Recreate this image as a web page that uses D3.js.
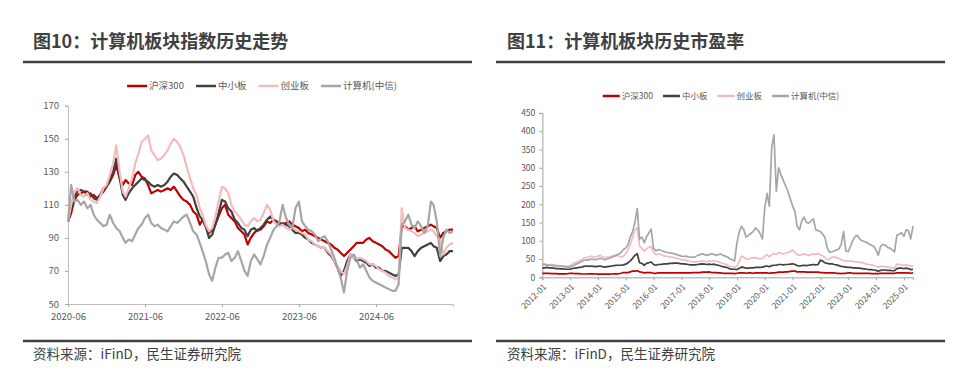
<!DOCTYPE html>
<html>
<head>
<meta charset="utf-8">
<script src="https://cdn.jsdelivr.net/npm/d3@7"></script>
<style>
  body { margin: 0; background: #fff; }
  svg { display: block; font-family: "Microsoft YaHei", "Noto Sans CJK SC", sans-serif; }
</style>
</head>
<body>
<svg id="chart" width="957" height="373"></svg>
<script>
// legend / series
const seriesNames = ['沪深300', '中小板', '创业板', '计算机(中信)'];
const seriesColors = ['#c00000', '#404040', '#f2bcbc', '#a6a6a6'];

// fig 10: index level, half-monthly from 2020-06 (2020-06 = 100)
const idxStart = '2020-06-01';
const idxTickLabels = ['2020-06', '2021-06', '2022-06', '2023-06', '2024-06'];
const idxYTicks = [50, 70, 90, 110, 130, 150, 170];

const idxHs300 = [
  100, 105, 113, 116, 117, 118, 118, 115, 116, 114,
  116, 118, 121, 124, 128, 134, 126, 122, 125, 123,
  122, 128, 130, 127, 126, 122, 117, 118, 119, 118,
  119, 120, 119, 121, 118, 115, 113, 112, 110, 106,
  104, 98, 101, 97, 93, 95, 98, 103, 108, 110,
  104, 102, 100, 96, 94, 92, 86, 90, 93, 95,
  95, 97, 100, 99, 101, 100, 99, 98, 99, 100,
  98, 97, 96, 94, 95, 93, 92, 91, 90, 89,
  88, 87, 86, 84, 83, 81, 79, 81, 83, 85,
  87, 87, 87, 89, 90, 88, 87, 86, 85, 83,
  82, 80, 78, 79, 97, 97, 95, 96, 97, 94,
  95, 96, 97, 98, 97, 96, 90, 93, 94, 95,
  95
];
const idxSme = [
  100, 108, 115, 118, 119, 118, 116, 117, 114, 113,
  116, 120, 121, 125, 130, 138, 126, 116, 113, 117,
  120, 122, 124, 126, 125, 124, 122, 121, 122, 121,
  122, 124, 127, 129, 128, 126, 124, 121, 118, 115,
  108, 103, 101, 97, 90, 92, 98, 105, 113, 112,
  108, 106, 101, 99, 96, 95, 91, 95, 96, 94,
  96, 98, 101, 103, 101, 99, 98, 99, 98, 97,
  95, 93, 93, 92, 90, 89, 87, 86, 85, 84,
  84, 81, 79, 76, 72, 67, 70, 76, 80, 78,
  76, 77, 76, 75, 73, 74, 72, 72, 70, 70,
  69, 68, 67, 68, 84, 84, 84, 82, 79, 82,
  84, 85, 86, 87, 85, 84, 76, 79, 80, 82,
  82
];
const idxGem = [
  100, 110, 118, 120, 116, 115, 117, 113, 112, 111,
  115, 120, 122, 128, 135, 146, 130, 118, 115, 120,
  126, 135, 141, 148, 150, 152, 143, 140, 137, 138,
  140, 143, 147, 150, 148, 145, 140, 133, 126, 120,
  116, 108, 104, 98, 94, 96, 103, 112, 121, 120,
  117, 110, 106, 104, 101, 98, 97, 100, 102, 100,
  101, 105, 110, 107, 100, 98, 97, 98, 96, 95,
  96, 95, 94, 93, 92, 89, 88, 86, 85, 84,
  84, 82, 80, 76, 73, 70, 68, 73, 80, 78,
  77, 78, 77, 76, 74, 74, 73, 71, 70, 69,
  67, 66, 65, 66, 108, 96, 95, 94, 93, 91,
  92, 93, 94, 95, 94, 91, 89, 80, 84, 86,
  87
];
const idxComputer = [
  100, 122, 112, 113, 110, 112, 108, 110, 104, 101,
  99, 97, 98, 104, 99, 96, 94, 90, 87, 89,
  88, 92, 96, 98, 102, 104, 99, 97, 98, 96,
  95, 94, 97, 100, 99, 101, 103, 104, 99, 94,
  92, 87, 82, 76, 68, 64, 72, 78, 78, 80,
  81, 76, 78, 82, 76, 70, 67, 76, 80, 77,
  74, 79, 86, 90, 95, 97, 100, 110, 102, 98,
  96, 108, 112, 100, 97, 95, 94, 92, 88, 90,
  91, 88, 83, 78, 72, 66, 57, 70, 78, 80,
  77, 72, 74, 70, 66, 64, 63, 62, 61, 60,
  59, 58, 58, 62, 98, 100, 104, 98, 96, 100,
  97, 93, 97, 112, 110, 100, 79, 90, 95, 93,
  94
];

// fig 11: PE, monthly from 2012-01
const peStart = '2012-01-01';
const peTickLabels = ['2012-01', '2013-01', '2014-01', '2015-01', '2016-01', '2017-01', '2018-01',
  '2019-01', '2020-01', '2021-01', '2022-01', '2023-01', '2024-01', '2025-01'];
const peYTicks = [0, 50, 100, 150, 200, 250, 300, 350, 400, 450];

const peHs300 = [
  11, 11, 11, 11, 10, 10, 10, 9.5, 9.5, 9.5, 9.5, 10,
  11, 11, 10, 10, 10, 9, 9, 9, 9.5, 9.5, 9.5, 9,
  8.5, 8.5, 8.5, 8.5, 8.5, 8.5, 9, 9.5, 9.5, 10, 11, 13,
  13, 13, 15, 17, 17, 18, 15, 14, 12, 13, 13, 13,
  11, 11, 12, 12, 12, 12, 12, 12, 12, 12, 12, 12,
  12, 12, 12, 12, 12, 13, 13, 13, 13, 14, 14, 14,
  15, 13, 13, 13, 12, 12, 11, 11, 11, 11, 11, 10,
  11, 12, 12, 12, 11, 12, 12, 11, 12, 12, 12, 12,
  12, 12, 11, 12, 12, 13, 14, 14, 14, 15, 15, 16,
  17, 17, 15, 15, 15, 15, 14, 14, 14, 14, 14, 14,
  13, 13, 12, 12, 12, 12, 12, 11, 11, 10, 11, 11,
  12, 12, 11, 11, 11, 11, 11, 11, 11, 11, 10, 10,
  10, 10, 11, 11, 11, 11, 11, 11, 11, 12, 12, 12,
  12, 12, 12, 11, 12
];
const peSme = [
  25, 26, 27, 26, 26, 25, 24, 24, 23, 23, 22, 22,
  22, 24, 25, 26, 27, 28, 30, 31, 30, 31, 30, 29,
  30, 31, 29, 28, 29, 30, 31, 32, 33, 33, 33, 34,
  36, 40, 45, 52, 60, 65, 40, 38, 33, 38, 40, 42,
  35, 33, 35, 35, 36, 37, 37, 38, 38, 39, 39, 38,
  37, 37, 36, 35, 34, 34, 34, 35, 36, 37, 36, 35,
  36, 35, 36, 34, 33, 31, 29, 28, 26, 23, 22, 22,
  21, 25, 28, 27, 25, 25, 26, 26, 27, 27, 27, 28,
  30, 31, 29, 32, 33, 33, 35, 35, 34, 35, 35, 36,
  37, 35, 32, 31, 32, 33, 32, 33, 34, 35, 34, 35,
  47, 44, 40, 38, 37, 37, 35, 34, 32, 30, 29, 28,
  27, 27, 26, 26, 25, 25, 24, 23, 22, 21, 21, 20,
  19, 17, 19, 20, 20, 19, 19, 18, 18, 24, 25, 25,
  24, 25, 24, 21, 22
];
const peGem = [
  35, 34, 33, 34, 35, 34, 33, 32, 31, 31, 30, 30,
  32, 36, 40, 42, 45, 48, 52, 55, 54, 58, 56, 55,
  58, 60, 56, 54, 55, 56, 58, 60, 62, 58, 56, 58,
  65, 75, 90, 110, 130, 135, 85, 80, 72, 78, 82, 85,
  68, 62, 64, 63, 60, 58, 57, 56, 55, 54, 52, 50,
  48, 48, 47, 45, 44, 42, 42, 43, 44, 45, 44, 43,
  45, 44, 46, 44, 43, 40, 38, 36, 34, 30, 29, 28,
  30, 45, 58, 55, 50, 50, 52, 53, 54, 52, 50, 52,
  58, 62, 56, 62, 65, 62, 68, 66, 64, 66, 68, 70,
  75, 68, 62, 60, 62, 64, 62, 60, 62, 64, 63, 65,
  62, 58, 55, 48, 50, 55, 56, 54, 52, 48, 46, 45,
  44, 45, 44, 42, 42, 41, 40, 38, 36, 35, 34, 33,
  30, 28, 30, 30, 29, 28, 27, 26, 25, 36, 35, 34,
  33, 34, 33, 30, 31
];
const peComputer = [
  35, 36, 34, 33, 33, 32, 31, 31, 30, 30, 29, 28,
  28, 31, 34, 37, 40, 43, 46, 48, 47, 50, 49, 48,
  50, 52, 50, 48, 50, 52, 55, 57, 60, 64, 68, 76,
  80, 90, 110, 125, 150, 188, 105, 110, 95, 110, 122, 132,
  80, 72, 76, 74, 72, 70, 68, 67, 66, 64, 62, 60,
  58, 57, 58, 56, 55, 55, 56, 60, 62, 64, 62, 60,
  62, 64, 63, 60, 62, 64, 60, 58, 55, 50, 48, 45,
  95, 125, 140, 130, 110, 115, 120, 125, 135, 130, 120, 105,
  190, 230, 195, 355, 390, 235, 300, 280, 265, 250, 235, 215,
  195, 180, 140, 130, 155, 165, 150, 148, 155, 160, 130, 128,
  125, 118, 110, 80, 68, 70, 72, 75, 78, 90, 125, 72,
  70, 85, 100, 112, 115, 105, 100, 98, 95, 92, 88, 85,
  75, 60, 85, 90, 88, 82, 80, 75, 70, 115, 118, 122,
  112, 130, 128, 105, 140
];

const parse = d3.timeParse('%Y-%m-%d');
const parseMonth = d3.timeParse('%Y-%m');

// half-month steps for fig 10, month steps for fig 11
const idxDates = idxHs300.map((_, i) => {
  const m = d3.timeMonth.offset(parse(idxStart), Math.floor(i / 2));
  return i % 2 ? d3.timeDay.offset(m, 15) : m;
});
const peDates = peHs300.map((_, i) => d3.timeMonth.offset(parse(peStart), i));

const svg = d3.select('#chart');

function drawPanel(cfg) {
  const g = svg.append('g');

  g.append('text')
    .attr('x', cfg.titleX)
    .attr('y', 48)
    .attr('font-size', 18)
    .attr('font-weight', 'bold')
    .attr('fill', '#404040')
    .text(cfg.title);

  [62, 341].forEach((yy) => {
    g.append('line')
      .attr('x1', cfg.ruleX1).attr('x2', cfg.ruleX2)
      .attr('y1', yy).attr('y2', yy)
      .attr('stroke', '#404040')
      .attr('stroke-width', 2.5);
  });

  g.append('text')
    .attr('x', cfg.titleX)
    .attr('y', 358.5)
    .attr('font-size', 13.5)
    .attr('fill', '#404040')
    .text('资料来源：iFinD，民生证券研究院');

  const x = d3.scaleTime()
    .domain([cfg.dates[0], cfg.dates[cfg.dates.length - 1]])
    .range([cfg.left, cfg.right]);
  const y = d3.scaleLinear()
    .domain(cfg.yDomain)
    .range([cfg.bottom, cfg.top]);

  // axes
  const yAxis = g.append('g')
    .attr('transform', `translate(${cfg.left},0)`)
    .call(d3.axisLeft(y).tickValues(cfg.yTicks).tickSize(3).tickPadding(cfg.yPad));
  const xAxis = g.append('g')
    .attr('transform', `translate(0,${cfg.bottom})`)
    .call(d3.axisBottom(x)
      .tickValues(cfg.xTicks.map(parseMonth))
      .tickFormat(d3.timeFormat('%Y-%m'))
      .tickSize(3)
      .tickPadding(cfg.xPad));

  [yAxis, xAxis].forEach((ax) => {
    ax.select('.domain').attr('stroke', '#bfbfbf').attr('stroke-width', cfg.axisWidth);
    ax.selectAll('.tick line').attr('stroke', '#a6a6a6');
    ax.selectAll('.tick text')
      .attr('fill', '#595959')
      .attr('font-size', cfg.tickFont)
      .attr('font-family', '"Microsoft YaHei", "Noto Sans CJK SC", sans-serif');
  });

  if (cfg.rotate) {
    xAxis.selectAll('.tick text')
      .attr('x', 0).attr('y', 0).attr('dy', '0.35em')
      .attr('text-anchor', 'end')
      .attr('transform', 'translate(2,8) rotate(-45)');
  }

  // lines
  const line = d3.line()
    .x((d, i) => x(cfg.dates[i]))
    .y((d) => y(d));

  cfg.series.forEach((s, k) => {
    g.append('path')
      .datum(s)
      .attr('fill', 'none')
      .attr('stroke', seriesColors[k])
      .attr('stroke-width', cfg.lineWidth)
      .attr('stroke-linejoin', 'round')
      .attr('d', line);
  });

  // legend
  const lg = g.append('g');
  let cx = 0;
  seriesNames.forEach((name, k) => {
    lg.append('line')
      .attr('x1', cx).attr('x2', cx + cfg.legLine)
      .attr('y1', 0).attr('y2', 0)
      .attr('stroke', seriesColors[k])
      .attr('stroke-width', 2.5);
    const t = lg.append('text')
      .attr('x', cx + cfg.legLine + 2)
      .attr('dy', '0.35em')
      .attr('font-size', cfg.legFont)
      .attr('fill', '#595959')
      .text(name);
    cx += cfg.legLine + 2 + t.node().getComputedTextLength() + cfg.legGap;
  });
  const legW = cx - cfg.legGap;
  lg.attr('transform', `translate(${cfg.legCenter - legW / 2},${cfg.legY})`);
}

drawPanel({
  title: '图10：计算机板块指数历史走势',
  titleX: 33, ruleX1: 23, ruleX2: 472,
  left: 68, right: 453, top: 105.7, bottom: 304,
  dates: idxDates,
  series: [idxHs300, idxSme, idxGem, idxComputer],
  yDomain: [50, 170], yTicks: idxYTicks, xTicks: idxTickLabels,
  yPad: 6, xPad: 6, tickFont: 9.5, axisWidth: 1, lineWidth: 2.2,
  rotate: false,
  legLine: 20, legGap: 12, legFont: 9.5, legCenter: 262, legY: 86
});

drawPanel({
  title: '图11：计算机板块历史市盈率',
  titleX: 507, ruleX1: 496, ruleX2: 945,
  left: 542.3, right: 913, top: 113, bottom: 277.3,
  dates: peDates,
  series: [peHs300, peSme, peGem, peComputer],
  yDomain: [0, 450], yTicks: peYTicks, xTicks: peTickLabels,
  yPad: 4, xPad: 5, tickFont: 8.5, axisWidth: 1.5, lineWidth: 1.7,
  rotate: true,
  legLine: 17, legGap: 10, legFont: 8.5, legCenter: 721, legY: 96
});
</script>
</body>
</html>
